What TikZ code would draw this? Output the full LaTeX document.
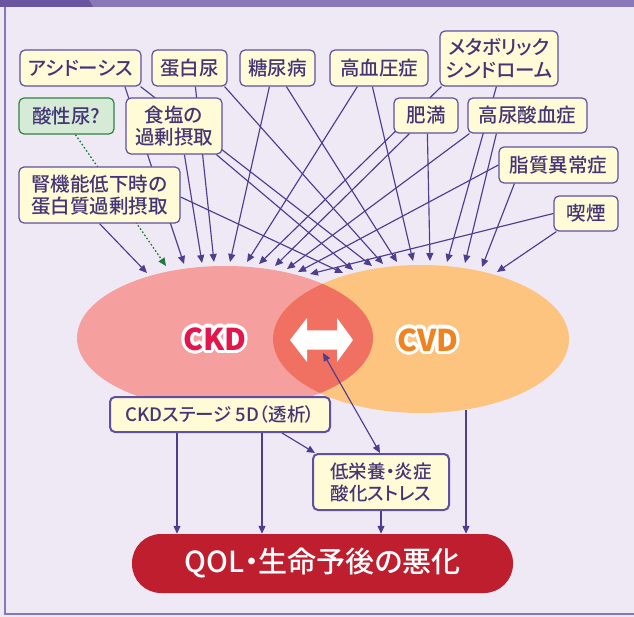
\documentclass[tikz,border=0pt]{standalone}
\usepackage{fontspec}
\setmainfont{Noto Sans CJK JP}
\newfontfamily\medfont{Noto Sans CJK JP Medium}
\newfontfamily\medkana{Noto Sans CJK JP Medium}[RawFeature=+palt]
\usetikzlibrary{arrows.meta,calc}
\definecolor{bgc}{HTML}{EEE9F5}
\definecolor{barc}{HTML}{8878B9}
\definecolor{bardk}{HTML}{6A55A0}
\definecolor{boxc}{HTML}{FFFBD6}
\definecolor{bordc}{HTML}{5F50A0}
\definecolor{linec}{HTML}{4D3E8E}
\definecolor{txtc}{HTML}{443577}
\definecolor{gfill}{HTML}{D5EBD5}
\definecolor{gbord}{HTML}{328246}
\definecolor{gline}{HTML}{1E7A3A}
\definecolor{ckdc}{HTML}{F5A09E}
\definecolor{cvdc}{HTML}{FDC480}
\definecolor{ovc}{HTML}{F07062}
\definecolor{ckdtxt}{HTML}{E3164C}
\definecolor{cvdtxt}{HTML}{F08320}
\definecolor{qolc}{HTML}{BE1E2D}
\newcommand\lblfont{\fontsize{19.5}{22.5}\selectfont\medfont}
\newcommand\smlfont{\fontsize{18.5}{22}\selectfont\medkana}
\newcommand\bigfont{\fontsize{30}{34}\selectfont\bfseries}
\newcommand\qolfont{\fontsize{29}{32}\selectfont\medkana}
\pgfdeclarelayer{bg}
\pgfdeclarelayer{lines}
\pgfsetlayers{bg,lines,main}
\begin{document}
\begin{tikzpicture}[x=1pt,y=-1pt,
  box/.style={draw=bordc, fill=boxc, rounded corners=5pt, line width=1.2pt, inner sep=0pt, align=center, text=txtc, font=\lblfont},
  gbox/.style={box, draw=gbord, fill=gfill},
  tbox/.style={box, line width=2pt, font=\smlfont},
  qolbox/.style={fill=qolc, rounded corners=29pt, inner sep=0pt, text=white, font=\qolfont, minimum width=381pt, minimum height=59pt},
  conn/.style={draw=linec, line width=1.15pt, -{Triangle[length=8pt,width=7pt]}},
  biconn/.style={conn, {Triangle[length=8pt,width=7pt]}-{Triangle[length=8pt,width=7pt]}},
  gconn/.style={draw=gline, line width=1.3pt, dash pattern=on 1.6pt off 2.2pt, -{Triangle[length=8pt,width=7pt]}}
]
\useasboundingbox (0,0) rectangle (634,617);
\begin{pgfonlayer}{bg}
  \fill[bgc] (0,0) rectangle (634,617);
  \fill[barc] (0,0) rectangle (634,7);
  \fill[bardk] (0,0) -- (89,0) -- (93,7) -- (0,7) -- cycle;
  \draw[barc, line width=1.6pt] (5,7) -- (5,614) -- (634,614);
  \fill[ckdc] (225,338) ellipse [x radius=148pt, y radius=72pt];
  \fill[cvdc] (421,339) ellipse [x radius=148pt, y radius=74pt];
  \begin{scope}
    \clip (225,338) ellipse [x radius=148pt, y radius=72pt];
    \fill[ovc] (421,339) ellipse [x radius=148pt, y radius=74pt];
  \end{scope}
  \fill[white] (290,340) -- (307,318) -- (307,330.5) -- (337,330.5) -- (337,318) -- (353,340)
     -- (337,362) -- (337,349.5) -- (307,349.5) -- (307,362) -- cycle;
\end{pgfonlayer}

% ellipse labels with white outline
\coordinate (ckdpos) at (215,339);
\coordinate (cvdpos) at (428,340);
\foreach \ang in {0,22.5,...,337.5} {
  \node[font=\bigfont, text=white, inner sep=0pt] at ([shift={(\ang:3.2pt)}]ckdpos) {CKD};
  \node[font=\bigfont, text=white, inner sep=0pt] at ([shift={(\ang:3.2pt)}]cvdpos) {CVD};
}
\node[font=\bigfont, text=ckdtxt, inner sep=0pt] (ckdlbl) at (ckdpos) {CKD};
\node[font=\bigfont, text=cvdtxt, inner sep=0pt] (cvdlbl) at (cvdpos) {CVD};
\coordinate (dblarrow) at (323,353);
\coordinate (cvdb) at (466,410);

% boxes
\node[box, minimum width=121pt, minimum height=36pt] (ashi) at (80.5,68) {\medkana アシドーシス};
\node[box, minimum width=75pt, minimum height=36pt] (tanpaku) at (189.5,68) {蛋白尿};
\node[box, minimum width=75pt, minimum height=36pt] (tonyo) at (277.5,68) {糖尿病};
\node[box, minimum width=98pt, minimum height=36pt] (koketsu) at (379,68) {高血圧症};
\node[box, minimum width=118pt, minimum height=55pt] (metabo) at (499,58.5) {\medkana メタボリック\\\medkana シンドローム};
\node[gbox, minimum width=95pt, minimum height=36pt] (sansei) at (66.5,116) {酸性尿?};
\node[box, minimum width=96pt, minimum height=56pt] (shokuen) at (174,126) {食塩の\\過剰摂取};
\node[box, minimum width=64pt, minimum height=35pt] (himan) at (426,115.5) {肥満};
\node[box, minimum width=119pt, minimum height=35pt] (konyo) at (527.5,115.5) {高尿酸血症};
\node[box, minimum width=119pt, minimum height=36pt] (shishitsu) at (558.5,165) {脂質異常症};
\node[box, minimum width=64pt, minimum height=35pt] (kitsuen) at (586,213.5) {喫煙};
\node[box, minimum width=161pt, minimum height=56pt] (jinki) at (99.5,195) {腎機能低下時の\\蛋白質過剰摂取};
\node[tbox, minimum width=220pt, minimum height=35pt] (stage) at (220,414.5) {CKDステージ 5D（透析）};
\node[tbox, minimum width=136pt, minimum height=56pt] (teiei) at (381,482) {低栄養・炎症\\酸化ストレス};
\node[qolbox] (qol) at (322.5,563.5) {QOL・生命予後の悪化};

% targets on ellipse tops
\foreach \n/\x/\y in {k147/147/273, k184/184/264, k202/202/263, k214/214/262, k230/230/262, k247/247/262,
  k259/259/264, k275/275/266, k287/287/269, k298/298/272, k310/310/274, kg/166/266,
  v343/343/273, v353/353/270, v372/372/266, v383/383/264, v397/397/262, v413/413/261,
  v430/430/261, v447/447/262, v465/465/263, v482/482/267, v497/497/272}
  \coordinate (\n) at (\x,\y);

\begin{pgfonlayer}{lines}
  \draw[gconn] ([xshift=57pt]sansei.south west) -- (kg);
  \draw[conn] (jinki.south) -- (k147);
  \draw[conn] ([yshift=-2pt]jinki.east) -- (v343);
  \draw[conn] ([xshift=105.5pt]ashi.south west) -- (k184);
  \draw[conn] ([xshift=-1pt]ashi.south east) -- (v372);
  \draw[conn] ([xshift=59pt]shokuen.south west) -- (k202);
  \draw[conn] ([xshift=91pt]shokuen.south west) -- (v353);
  \draw[conn] ([xshift=44pt]tanpaku.south west) -- (k214);
  \draw[conn] ([xshift=-3pt]tanpaku.south east) -- (v383);
  \draw[conn] ([xshift=30pt]tonyo.south west) -- (k230);
  \draw[conn] ([xshift=47pt]tonyo.south west) -- (v397);
  \draw[conn] ([xshift=28pt]koketsu.south west) -- (k247);
  \draw[conn] ([xshift=43pt]koketsu.south west) -- (v413);
  \draw[conn] ([xshift=2pt]metabo.south west) -- (k259);
  \draw[conn] ([xshift=57pt]metabo.south west) -- (v447);
  \draw[conn] ([xshift=16pt]himan.south west) -- (k275);
  \draw[conn] ([xshift=34pt]himan.south west) -- (v430);
  \draw[conn] ([xshift=2pt]konyo.south west) -- (k287);
  \draw[conn] ([xshift=29pt]konyo.south west) -- (v465);
  \draw[conn] (shishitsu.west) -- (k298);
  \draw[conn] ([xshift=16pt]shishitsu.south west) -- (v482);
  \draw[conn] (kitsuen.west) -- (k310);
  \draw[conn] ([xshift=3pt]kitsuen.south west) -- (v497);
  % lower part
  \draw[biconn] (dblarrow) -- ([xshift=-1pt]teiei.north);
  \draw[conn] ([xshift=173pt]stage.south west) -- ([xshift=3pt]teiei.north west);
  \draw[conn] ([xshift=68pt]stage.south west) coordinate (sa) -- (sa |- qol.north);
  \draw[conn] ([xshift=153pt]stage.south west) coordinate (sb) -- (sb |- qol.north);
  \draw[conn] (teiei.south) -- (teiei.south |- qol.north);
  \draw[conn] (cvdb) -- (cvdb |- qol.north);
\end{pgfonlayer}
\end{tikzpicture}
\end{document}
